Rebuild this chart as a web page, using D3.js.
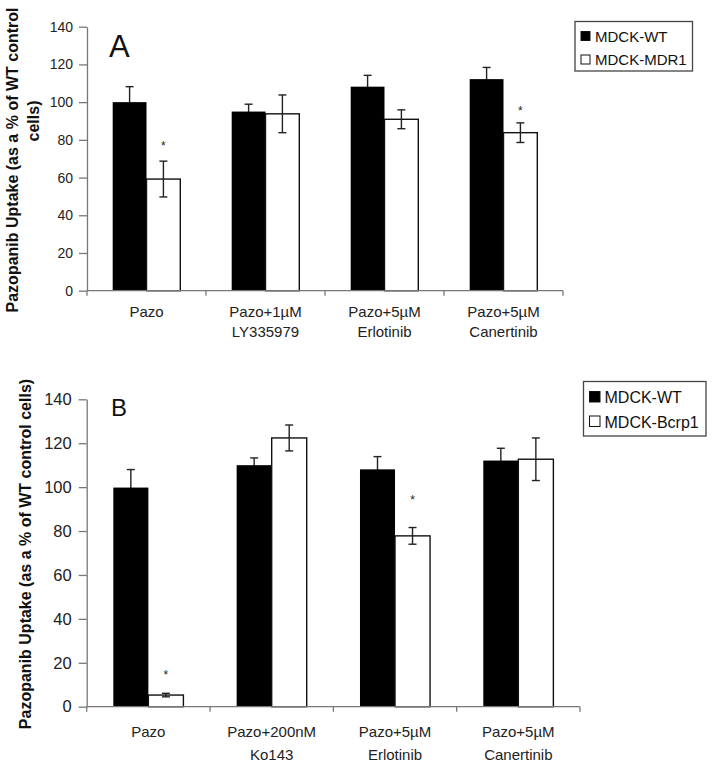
<!DOCTYPE html>
<html><head><meta charset="utf-8">
<script src="https://cdn.jsdelivr.net/npm/d3@7"></script>
<style>
html,body{margin:0;padding:0;background:#fff;}
svg text{font-family:"Liberation Sans",Arial,sans-serif;}
</style></head>
<body><svg id="chart" width="713" height="768"></svg>
<script>
// ---------- data ----------
const series = ["wt", "mut"];
const yTicks = [0, 20, 40, 60, 80, 100, 120, 140];
const yTitle = "Pazopanib Uptake (as a % of WT control cells)";

const catsA = [["Pazo"], ["Pazo+1µM", "LY335979"], ["Pazo+5µM", "Erlotinib"], ["Pazo+5µM", "Canertinib"]];
const wtA = [100, 95, 108.2, 112.2];
const wtErrA = [8.2, 3.9, 6.0, 6.2];
const mdr1A = [59.2, 93.8, 90.9, 83.8];
const mdr1ErrA = [9.5, 10.0, 5.0, 5.2];
const starsA = [78.5, null, null, 96.9];
const legendA = ["MDCK-WT", "MDCK-MDR1"];

const catsB = [["Pazo"], ["Pazo+200nM", "Ko143"], ["Pazo+5µM", "Erlotinib"], ["Pazo+5µM", "Canertinib"]];
const wtB = [99.8, 110, 108.1, 112.1];
const wtErrB = [8.2, 3.3, 5.8, 5.6];
const bcrp1B = [5.3, 122.4, 77.8, 112.7];
const bcrp1ErrB = [0.8, 5.9, 3.8, 9.7];
const starsB = [15.9, null, 95.6, null];
const legendB = ["MDCK-WT", "MDCK-Bcrp1"];

const svg = d3.select("#chart");

function panel(cfg) {
  const g = svg.append("g");
  const x = d3.scaleBand().domain(d3.range(cfg.cats.length)).range([cfg.x0, cfg.x1]).paddingInner(0).paddingOuter(0);
  const xs = d3.scaleBand().domain(series).range([0, x.bandwidth()]).paddingInner(0).paddingOuter(0.76);
  const y = d3.scaleLinear().domain([0, 140]).range([cfg.y0, cfg.y1]);
  const rows = cfg.cats.map((c, i) => ({i, wt: cfg.wt[i], wtErr: cfg.wtErr[i], mut: cfg.mut[i], mutErr: cfg.mutErr[i], star: cfg.stars[i]}));

  // y axis
  const yAx = g.append("g").attr("transform", `translate(${cfg.x0},0)`)
    .call(d3.axisLeft(y).tickValues(yTicks).tickSize(8).tickPadding(cfg.tickPad).tickSizeOuter(0));
  yAx.select(".domain").attr("stroke", "#777").attr("stroke-width", 1.3);
  yAx.selectAll(".tick line").attr("stroke", "#777").attr("stroke-width", 1.3);
  yAx.selectAll(".tick text").attr("font-size", cfg.tickFont).attr("fill", "#222")
    .style("font-family", '"Liberation Sans",Arial,sans-serif');

  const grp = g.selectAll(".grp").data(rows).join("g").attr("transform", d => `translate(${x(d.i)},0)`);

  // error bars
  function err(key, ekey) {
    const cx = xs(key) + xs.bandwidth() / 2;
    const e = grp.append("g").attr("stroke", "#222").attr("stroke-width", 1.4);
    e.append("line").attr("x1", cx).attr("x2", cx).attr("y1", d => y(d[key] - d[ekey])).attr("y2", d => y(d[key] + d[ekey]));
    e.append("line").attr("x1", cx - 4).attr("x2", cx + 4).attr("y1", d => y(d[key] + d[ekey])).attr("y2", d => y(d[key] + d[ekey]));
    e.append("line").attr("x1", cx - 4).attr("x2", cx + 4).attr("y1", d => y(d[key] - d[ekey])).attr("y2", d => y(d[key] - d[ekey]));
  }
  // WT error bars sit behind the black bars (lower half hidden)
  err("wt", "wtErr");

  // bars
  grp.append("rect").attr("x", xs("wt")).attr("width", xs.bandwidth())
    .attr("y", d => y(d.wt)).attr("height", d => y(0) - y(d.wt)).attr("fill", "#000");
  grp.append("rect").attr("x", xs("mut")).attr("width", xs.bandwidth())
    .attr("y", d => y(d.mut)).attr("height", d => y(0) - y(d.mut))
    .attr("fill", "#fff").attr("stroke", "#111").attr("stroke-width", 1.4);

  err("mut", "mutErr");

  // stars
  grp.filter(d => d.star != null).append("text")
    .attr("x", xs("mut") + xs.bandwidth() / 2).attr("y", d => y(d.star) + 7)
    .attr("text-anchor", "middle").attr("font-size", 12).attr("fill", "#222").text("*");

  // x axis
  const xa = g.append("g");
  xa.append("line").attr("x1", cfg.x0).attr("x2", cfg.x1).attr("y1", y(0)).attr("y2", y(0)).attr("stroke", "#777").attr("stroke-width", 1.3);
  const bounds = cfg.cats.map((c, i) => x(i)).concat([cfg.x1]);
  xa.selectAll(".xt").data(bounds).join("line").attr("x1", d => d).attr("x2", d => d)
    .attr("y1", y(0)).attr("y2", y(0) + 5).attr("stroke", "#777").attr("stroke-width", 1.3);
  const lab = xa.selectAll(".xl").data(rows).join("text")
    .attr("x", d => x(d.i) + x.bandwidth() / 2).attr("y", y(0) + cfg.labDy)
    .attr("text-anchor", "middle").attr("font-size", 15).attr("fill", "#222");
  lab.selectAll("tspan").data(d => cfg.cats[d.i].map((t, k) => ({t, k, cx: x(d.i) + x.bandwidth() / 2}))).join("tspan")
    .attr("x", d => d.cx).attr("dy", d => d.k === 0 ? 0 : cfg.lineH).text(d => d.t);

  // y title
  cfg.titleLines.forEach((t, k) => {
    g.append("text").attr("transform", `translate(${cfg.titlePos[k][0]},${cfg.titlePos[k][1]}) rotate(-90)`)
      .attr("text-anchor", "middle").attr("font-size", 16).attr("font-weight", "bold").attr("fill", "#111").text(t);
  });

  // panel letter
  g.append("text").attr("x", cfg.letterPos[0]).attr("y", cfg.letterPos[1]).attr("font-size", cfg.letterSize)
    .attr("fill", "#111").text(cfg.letter);

  // legend
  const L = cfg.legend;
  g.append("rect").attr("x", L.x).attr("y", L.y).attr("width", L.w).attr("height", L.h)
    .attr("fill", "#fff").attr("stroke", "#444").attr("stroke-width", 1.3);
  cfg.legendNames.forEach((n, k) => {
    const by = L.y + L.first + k * L.gap;
    g.append("rect").attr("x", L.x + L.sx).attr("y", by - L.sq - 1).attr("width", L.sq).attr("height", L.sq)
      .attr("fill", k === 0 ? "#000" : "#fff").attr("stroke", "#111").attr("stroke-width", 1);
    g.append("text").attr("x", L.x + L.tx).attr("y", by).attr("font-size", L.font).attr("fill", "#111").text(n);
  });
}

panel({
  cats: catsA, wt: wtA, wtErr: wtErrA, mut: mdr1A, mutErr: mdr1ErrA, stars: starsA,
  x0: 87, x1: 563, y0: 290.7, y1: 26.7, tickFont: 14, tickPad: 6, labDy: 26, lineH: 20,
  titleLines: ["Pazopanib Uptake (as a % of WT control", "cells)"],
  titlePos: [[18, 160], [39, 121]],
  letter: "A", letterPos: [109, 57], letterSize: 31,
  legend: {x: 575, y: 21.5, w: 117.5, h: 49.5, first: 20, gap: 23.5, sx: 6, sq: 9, tx: 20, font: 15},
  legendNames: legendA
});

panel({
  cats: catsB, wt: wtB, wtErr: wtErrB, mut: bcrp1B, mutErr: bcrp1ErrB, stars: starsB,
  x0: 86.7, x1: 580, y0: 706.7, y1: 399.3, tickFont: 16.5, tickPad: 7, labDy: 30, lineH: 23,
  titleLines: [yTitle],
  titlePos: [[31, 554]],
  letter: "B", letterPos: [111, 416], letterSize: 24,
  legend: {x: 583.5, y: 381.5, w: 122.5, h: 54.5, first: 21.5, gap: 24.5, sx: 6, sq: 10.5, tx: 21, font: 16},
  legendNames: legendB
});
</script></body></html>
